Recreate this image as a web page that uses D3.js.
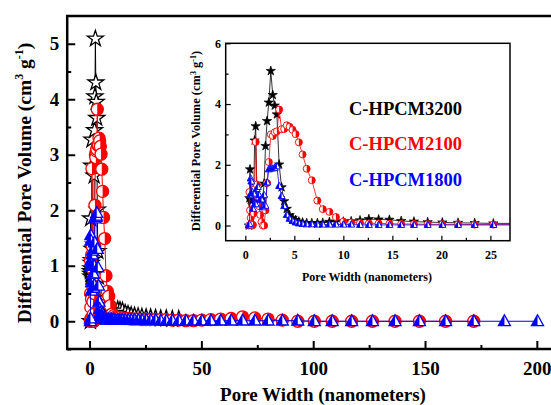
<!DOCTYPE html>
<html>
<head>
<meta charset="utf-8">
<script src="https://cdn.jsdelivr.net/npm/d3@7"></script>
<style>
	body { margin: 0; background: #fff; }
	svg text { font-family: "Liberation Serif", "Times New Roman", serif; font-weight: bold; fill: #000; }
</style>
</head>
<body>
<div id="chart"></div>
<script>

// pore widths (nm), shared by the three samples
const poreWidth = [ 0.36, 0.42, 0.48, 0.55, 0.62, 0.7, 0.78, 0.86, 0.95, 1.06,
	1.17, 1.28, 1.4, 1.52, 1.65, 1.78, 1.92, 2.06, 2.22, 2.4,
	2.6, 2.8, 3.0, 3.22, 3.45, 3.7, 3.96, 4.23, 4.52, 4.82,
	5.13, 5.46, 5.84, 6.26, 6.78, 7.35, 7.9, 8.58, 9.24, 10.0,
	10.8, 11.7, 12.6, 13.6, 14.7, 15.9, 17.2, 18.6, 20.1, 21.7,
	23.4, 25.3, 27.3, 29.5, 31.8, 34.3, 37.0, 39.9, 43.1, 46.5,
	50.2, 54.2, 58.6, 63.3, 68.4, 73.9, 79.8, 86.2, 93.1, 100.5,
	108.5, 117.2, 126.5, 136.6, 147.5, 159.2, 171.8, 185.5, 200.3 ];

const c3200 = [ 0, 0.9, 1.85, 0.85, 0.8, 0.95, 1.05, 1.1, 2.8, 3.27,
	1.3, 0.8, 0.85, 0.9, 0.75, 0.9, 1.38, 2.62, 3.44, 4.05,
	5.09, 4.3, 3.95, 3.66, 2.01, 1.26, 0.8, 0.55, 0.34, 0.25,
	0.18, 0.13, 0.1, 0.08, 0.08, 0.08, 0.09, 0.12, 0.13, 0.13,
	0.14, 0.17, 0.21, 0.2, 0.19, 0.15, 0.13, 0.11, 0.1, 0.09,
	0.08, 0.07, 0.07, 0.06, 0.05, 0.05, 0.04, 0.04 ];

const c2100 = [ 0, 1.1, 0.5, 0.25, 0.05, 0, 0.02, 0.4, 1.2, 2.75,
	1.35, 0.95, 0.64, 0.35, 0.12, 0, 0, 0.5, 1.4, 2.09,
	3.0, 2.95, 3.07, 3.1, 3.82, 3.17, 3.18, 3.3, 3.25, 3.15,
	3.01, 2.74, 2.34, 1.87, 1.49, 0.82, 0.54, 0.45, 0.28, 0.13,
	0.1, 0.08, 0.07, 0.07, 0.06, 0.05, 0.05, 0.04, 0.04, 0.04,
	0.03, 0.03, 0.03, 0.03, 0.03, 0.03, 0.02, 0.02, 0.01, 0.01,
	0.02, 0.03, 0.04, 0.05, 0.08, 0.06, 0.04, 0.02, 0, 0,
	0, 0, 0, 0, 0, 0, 0 ];

const c1800 = [ 0, 0.05, 1.0, 1.55, 1.45, 1.1, 0.55, 1.05, 0.7, 0.7,
	1.2, 1.27, 1.0, 0.85, 0.86, 0.6, 1.0, 0.65, 1.42, 1.85,
	1.88, 1.88, 1.9, 1.95, 1.3, 0.97, 0.64, 0.35, 0.22, 0.15,
	0.1, 0.07, 0.05, 0.04, 0.04, 0.03, 0.03, 0.03, 0.03, 0.03,
	0.03, 0.02, 0.02, 0.02, 0.02, 0.02, 0.02, 0.02, 0.02, 0.02,
	0.02, 0.02, 0.02, 0.02, 0.01, 0.01, 0.01, 0.01, 0.01, 0.01,
	0.01, 0.01, 0.01, 0.01, 0.01, 0.01, 0.01, 0.01, 0.01, 0,
	0, 0, 0, 0, 0, 0, 0, 0, 0 ];

const seriesNames = [ "C-HPCM3200", "C-HPCM2100", "C-HPCM1800" ];
const seriesColors = [ "#000000", "#ff0000", "#0000ff" ];
const seriesMarkers = [ "star", "circle", "triangle" ];

const mainXTicks = [ 0, 50, 100, 150, 200 ];
const mainXMinor = [ 25, 75, 125, 175 ];
const mainYTicks = [ 0, 1, 2, 3, 4, 5 ];
const mainYMinor = [ -0.5, 0.5, 1.5, 2.5, 3.5, 4.5 ];
const insetXTicks = [ 0, 5, 10, 15, 20, 25 ];
const insetXMinor = [ 2.5, 7.5, 12.5, 17.5, 22.5 ];
const insetYTicks = [ 0, 2, 4, 6 ];
const insetYMinor = [ 1, 3, 5 ];

const width = 551, height = 405;

let svg = d3.select( "#chart" )
	.append( "svg" )
		.attr( "width", width )
		.attr( "height", height );

let series = seriesNames.map( ( name, i ) => {
	let vals = [ c3200, c2100, c1800 ][ i ];
	return {
		name,
		color: seriesColors[ i ],
		marker: seriesMarkers[ i ],
		points: vals.map( ( v, j ) => ( { x: poreWidth[ j ], y: v } ) )
	};
} );

///////////////////////////////////////////////////////////////////////

function draw_marker( g, s, size, filled_star )	{

	let r = size / 2;
	if( s.marker == "circle" )	{
		g.append( "circle" )
			.attr( "r", r )
			.attr( "fill", "#fff" );
		g.append( "path" )
			.attr( "d", `M0,${ -r }A${ r },${ r } 0 0 1 0,${ r }Z` )
			.attr( "fill", s.color );
		g.append( "circle" )
			.attr( "r", r )
			.attr( "fill", "none" )
			.attr( "stroke", s.color )
			.attr( "stroke-width", size > 8 ? 1.3 : 0.9 );
	}
	else if( s.marker == "triangle" )	{
		let h = size * 0.9;
		let top = -h * 0.6, bot = h * 0.4;
		g.append( "path" )
			.attr( "d", `M0,${ top }L${ r },${ bot }L${ -r },${ bot }Z` )
			.attr( "fill", "#fff" );
		g.append( "path" )
			.attr( "d", `M0,${ top }L0,${ bot }L${ -r },${ bot }Z` )
			.attr( "fill", s.color );
		g.append( "path" )
			.attr( "d", `M0,${ top }L${ r },${ bot }L${ -r },${ bot }Z` )
			.attr( "fill", "none" )
			.attr( "stroke", s.color )
			.attr( "stroke-width", size > 8 ? 1.3 : 0.9 );
	}
	else	{
		g.append( "path" )
			.attr( "d", d3.symbol( d3.symbolStar ).size( size * size * 0.55 )() )
			.attr( "fill", filled_star ? s.color : "#fff" )
			.attr( "stroke", s.color )
			.attr( "stroke-width", size > 8 ? 1.3 : 0.7 );
	}
}

function draw_series( g, x, y, size, line_w, filled_star )	{

	let line = d3.line()
		.x( d => x( d.x ) )
		.y( d => y( d.y ) );

	let [ xlo, xhi ] = x.domain();

	series.forEach( s => {
		let pts = s.points.filter( d => d.x >= xlo && d.x <= xhi );
		let sg = g.append( "g" );
		sg.append( "path" )
			.datum( s.points )
			.attr( "d", line )
			.attr( "fill", "none" )
			.attr( "stroke", s.color )
			.attr( "stroke-width", line_w );
		sg.selectAll( "g.mk" )
			.data( pts )
			.join( "g" )
				.attr( "class", "mk" )
				.attr( "transform", d => `translate(${ x( d.x ) },${ y( d.y ) })` )
				.each( function()	{ draw_marker( d3.select( this ), s, size, filled_star ); } );
	} );
}

function draw_axes( g, x, y, o )	{

	let [ x0, x1 ] = x.range();
	let [ y0, y1 ] = y.range();

	g.append( "g" )
		.attr( "transform", `translate(0,${ y0 })` )
		.call( d3.axisBottom( x ).tickValues( o.xTicks ).tickFormat( d3.format( "d" ) ).tickSize( -o.major ).tickPadding( o.xPad ) );
	g.append( "g" )
		.attr( "transform", `translate(0,${ y0 })` )
		.call( d3.axisBottom( x ).tickValues( o.xMinor ).tickSize( -o.minor ).tickFormat( "" ) );

	g.append( "g" )
		.attr( "transform", `translate(${ x0 },0)` )
		.call( d3.axisLeft( y ).tickValues( o.yTicks ).tickFormat( d3.format( "d" ) ).tickSize( -o.major ).tickPadding( o.yPad ) );
	g.append( "g" )
		.attr( "transform", `translate(${ x0 },0)` )
		.call( d3.axisLeft( y ).tickValues( o.yMinor ).tickSize( -o.minor ).tickFormat( "" ) );

	g.selectAll( ".domain" ).remove();
	g.selectAll( ".tick line" )
		.attr( "stroke", "#000" )
		.attr( "stroke-width", o.tickW );
	g.selectAll( ".tick text" )
		.style( "font-size", o.font + "px" )
		.style( "font-family", "'Liberation Serif', serif" )
		.style( "font-weight", "bold" )
		.attr( "fill", "#000" );

	g.append( "rect" )
		.attr( "x", x0 )
		.attr( "y", y1 )
		.attr( "width", x1 - x0 )
		.attr( "height", y0 - y1 )
		.attr( "fill", "none" )
		.attr( "stroke", "#000" )
		.attr( "stroke-width", o.frameW );
}

function y_title( g, cx, cy, fs, sup )	{

	let t = g.append( "text" )
		.attr( "transform", `translate(${ cx },${ cy }) rotate(-90)` )
		.attr( "text-anchor", "middle" )
		.attr( "dy", "0.35em" )
		.style( "font-size", fs + "px" );
	t.append( "tspan" ).text( "Differential Pore Volume (cm" );
	t.append( "tspan" ).attr( "dy", -fs * 0.38 ).style( "font-size", sup + "px" ).text( "3" );
	t.append( "tspan" ).attr( "dy", fs * 0.38 ).text( " g" );
	t.append( "tspan" ).attr( "dy", -fs * 0.38 ).style( "font-size", sup + "px" ).text( "-1" );
	t.append( "tspan" ).attr( "dy", fs * 0.38 ).text( ")" );
}

///////////////////////////////////////////////////////////////////////
// main panel

let mx = d3.scaleLinear().domain( [ -10, 210 ] ).range( [ 67.2, 559.2 ] );
let my = d3.scaleLinear().domain( [ -0.5, 5.5 ] ).range( [ 349, 16 ] );

let main = svg.append( "g" );
draw_series( main, mx, my, 12, 1, false );
draw_axes( main, mx, my, {
	xTicks: mainXTicks, xMinor: mainXMinor, yTicks: mainYTicks, yMinor: mainYMinor,
	major: 8, minor: 4, xPad: 12.5, yPad: 8, font: 19, tickW: 2, frameW: 2.5
} );

y_title( main, 24, 183, 19.5, 12 );

main.append( "text" )
	.attr( "x", 323 )
	.attr( "y", 401 )
	.attr( "text-anchor", "middle" )
	.style( "font-size", "19px" )
	.text( "Pore Width (nanometers)" );

///////////////////////////////////////////////////////////////////////
// inset

let ix = d3.scaleLinear().domain( [ -2, 27 ] ).range( [ 225.7, 510 ] );
let iy = d3.scaleLinear().domain( [ -0.5, 6 ] ).range( [ 240.7, 43.3 ] );

svg.append( "clipPath" )
	.attr( "id", "inset-clip" )
	.append( "rect" )
		.attr( "x", 225.7 ).attr( "y", 43.3 )
		.attr( "width", 510 - 225.7 ).attr( "height", 240.7 - 43.3 );

let inset = svg.append( "g" );
inset.append( "rect" )
	.attr( "x", 225.7 ).attr( "y", 43.3 )
	.attr( "width", 510 - 225.7 ).attr( "height", 240.7 - 43.3 )
	.attr( "fill", "#fff" );
let insetData = inset.append( "g" ).attr( "clip-path", "url(#inset-clip)" );
draw_series( insetData, ix, iy, 7, 0.8, true );
draw_axes( inset, ix, iy, {
	xTicks: insetXTicks, xMinor: insetXMinor, yTicks: insetYTicks, yMinor: insetYMinor,
	major: 5, minor: 3, xPad: 9.3, yPad: 4.7, font: 12, tickW: 1.2, frameW: 1.5
} );

y_title( inset, 196, 141, 12.5, 8 );

inset.append( "text" )
	.attr( "x", 367 )
	.attr( "y", 281 )
	.attr( "text-anchor", "middle" )
	.style( "font-size", "12px" )
	.text( "Pore Width (nanometers)" );

// legend labels
inset.selectAll( "text.lg" )
	.data( series )
	.join( "text" )
		.attr( "class", "lg" )
		.attr( "x", 349 )
		.attr( "y", ( d, i ) => 114.5 + i * 35.5 )
		.style( "font-size", "18.5px" )
		.style( "fill", d => d.color )
		.text( d => d.name );

</script>
</body>
</html>
